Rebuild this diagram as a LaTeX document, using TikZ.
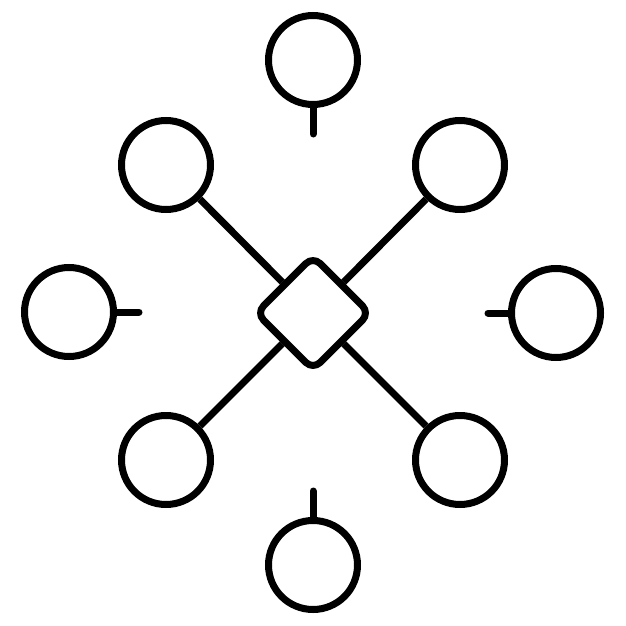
\documentclass[tikz,border=0pt]{standalone}
\begin{document}
\begin{tikzpicture}[x=1pt,y=-1pt,
  ring/.style={circle,draw=black,line width=7pt,minimum size=89pt,inner sep=0pt,fill=white},
  hub/.style={rectangle,draw=black,line width=7pt,minimum size=80pt,inner sep=0pt,rotate=45,rounded corners=10pt,fill=white},
  link/.style={line width=7pt,line cap=round}]
\useasboundingbox (0,0) rectangle (626,626);
\node[hub] (h) at (313,313) {};
\node[ring] (t) at (313,60) {};
\node[ring] (b) at (313,565) {};
\node[ring] (l) at (69,312) {};
\node[ring] (r) at (556,313) {};
\node[ring] (tl) at (166,165) {};
\node[ring] (tr) at (460,165) {};
\node[ring] (bl) at (166,460) {};
\node[ring] (br) at (460,460) {};
\coordinate (ts) at (313,134);
\coordinate (bs) at (313,491);
\coordinate (ls) at (139,312);
\coordinate (rs) at (488,313);
\draw[link] (t.south) -- (ts);
\draw[link] (b.north) -- (bs);
\draw[link] (l.east) -- (ls);
\draw[link] (r.west) -- (rs);
\draw[link,line cap=butt] (tl) -- (h);
\draw[link,line cap=butt] (tr) -- (h);
\draw[link,line cap=butt] (bl) -- (h);
\draw[link,line cap=butt] (br) -- (h);
\end{tikzpicture}
\end{document}
